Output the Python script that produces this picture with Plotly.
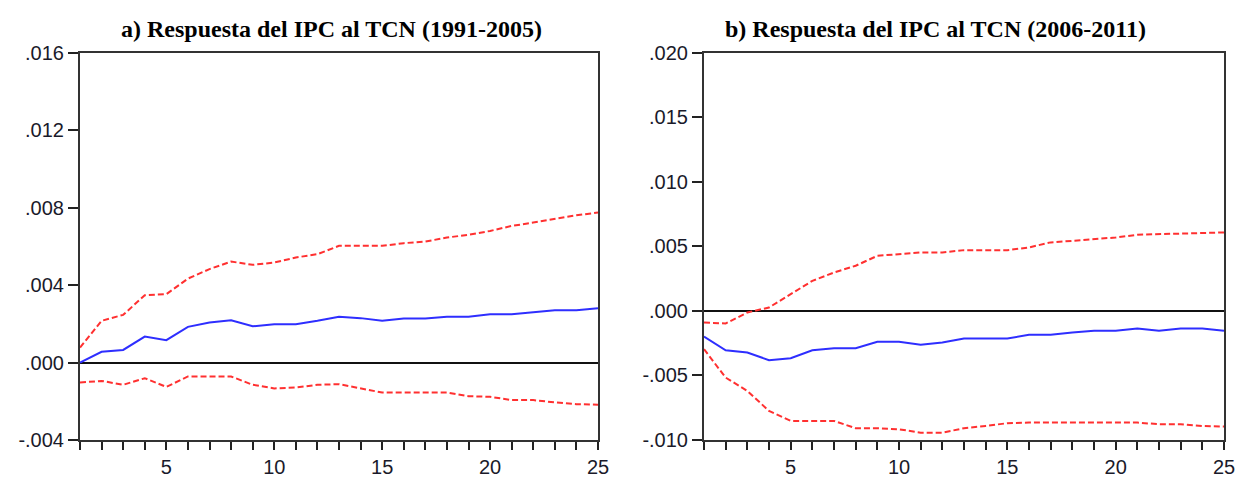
import plotly.graph_objects as go

periods = list(range(1, 26))

# Panel a) 1991-2005
a_resp = [0.0, 0.00055, 0.00065, 0.00134, 0.00115, 0.00184, 0.00206, 0.00218, 0.00187, 0.00198,
          0.00198, 0.00215, 0.00236, 0.00229, 0.00215, 0.00227, 0.00227, 0.00236, 0.00236, 0.00249,
          0.00249, 0.0026, 0.0027, 0.0027, 0.0028]
a_upper = [0.00077, 0.00215, 0.00246, 0.00347, 0.00353, 0.00433, 0.00482, 0.00521, 0.00504, 0.00516,
           0.00542, 0.00559, 0.00602, 0.00602, 0.00602, 0.00616, 0.00624, 0.00645, 0.00659, 0.00679,
           0.00705, 0.00722, 0.0074, 0.0076, 0.00774]
a_lower = [-0.00103, -0.00095, -0.00115, -0.00081, -0.00126, -0.00072, -0.00072, -0.00072, -0.00115, -0.00134,
           -0.00129, -0.00115, -0.00112, -0.00134, -0.00155, -0.00155, -0.00155, -0.00155, -0.00174, -0.00177,
           -0.00194, -0.00194, -0.00206, -0.00215, -0.00218]

# Panel b) 2006-2011
b_resp = [-0.00199, -0.00305, -0.00323, -0.00382, -0.00367, -0.00305, -0.00289, -0.00289, -0.0024, -0.0024,
          -0.00263, -0.00245, -0.00214, -0.00214, -0.00214, -0.00186, -0.00186, -0.00168, -0.00155, -0.00155,
          -0.00137, -0.00155, -0.00137, -0.00137, -0.00155]
b_upper = [-0.0009, -0.00098, -0.00013, 0.00026, 0.00129, 0.00232, 0.00297, 0.00349, 0.00426, 0.00439,
           0.00452, 0.00452, 0.0047, 0.0047, 0.0047, 0.00491, 0.0053, 0.00542, 0.00555, 0.00568,
           0.00589, 0.00594, 0.006, 0.00607, 0.00607]
b_lower = [-0.00297, -0.00517, -0.0062, -0.00775, -0.00852, -0.00852, -0.00852, -0.00909, -0.00909, -0.00917,
           -0.00943, -0.00943, -0.00909, -0.00891, -0.0087, -0.00865, -0.00865, -0.00865, -0.00865, -0.00865,
           -0.00865, -0.00878, -0.00878, -0.00891, -0.00896]

a_ytickvals = [-0.004, 0.0, 0.004, 0.008, 0.012, 0.016]
a_yticktext = ["-.004", ".000", ".004", ".008", ".012", ".016"]
b_ytickvals = [-0.010, -0.005, 0.0, 0.005, 0.010, 0.015, 0.020]
b_yticktext = ["-.010", "-.005", ".000", ".005", ".010", ".015", ".020"]

titles = ["a) Respuesta del IPC al TCN (1991-2005)", "b) Respuesta del IPC al TCN (2006-2011)"]

BLUE = "#2e2eff"
RED = "#ff3030"

fig = go.Figure()


def add_panel(xa, ya, resp, up, lo):
    fig.add_trace(go.Scatter(x=periods, y=up, mode="lines", xaxis=xa, yaxis=ya,
                             line=dict(color=RED, width=2, dash="6px,3px"), showlegend=False))
    fig.add_trace(go.Scatter(x=periods, y=lo, mode="lines", xaxis=xa, yaxis=ya,
                             line=dict(color=RED, width=2, dash="6px,3px"), showlegend=False))
    fig.add_trace(go.Scatter(x=periods, y=resp, mode="lines", xaxis=xa, yaxis=ya,
                             line=dict(color=BLUE, width=2), showlegend=False))


add_panel("x", "y", a_resp, a_upper, a_lower)
add_panel("x2", "y2", b_resp, b_upper, b_lower)

tickfont = dict(family="Liberation Sans, Arial, sans-serif", size=20, color="#1a1a2a")
xcommon = dict(range=[1, 25], tick0=0, dtick=5, ticks="outside", ticklen=8, tickwidth=2,
               tickcolor="#222", showline=True, linecolor="#333", linewidth=2, mirror=True,
               showgrid=False, zeroline=False, tickfont=tickfont, automargin=False,
               minor=dict(dtick=1, tick0=0, ticks="outside", ticklen=8, tickwidth=2, tickcolor="#222",
                          showgrid=False))
ycommon = dict(ticks="outside", ticklen=10, tickwidth=2, tickcolor="#222", showline=True,
               linecolor="#333", linewidth=2, mirror=True, showgrid=False, zeroline=True,
               zerolinecolor="#111", zerolinewidth=2, tickfont=tickfont, tickmode="array",
               automargin=False)

fig.update_layout(
    width=1236, height=480,
    margin=dict(l=0, r=0, t=0, b=0),
    paper_bgcolor="white", plot_bgcolor="white",
    xaxis=dict(domain=[80 / 1236, 598 / 1236], anchor="y", **xcommon),
    yaxis=dict(domain=[40 / 480, 427.5 / 480], anchor="x", range=[-0.004, 0.016],
               tickvals=a_ytickvals, ticktext=a_yticktext, **ycommon),
    xaxis2=dict(domain=[704 / 1236, 1224 / 1236], anchor="y2", **xcommon),
    yaxis2=dict(domain=[40 / 480, 427.5 / 480], anchor="x2", range=[-0.010, 0.020],
                tickvals=b_ytickvals, ticktext=b_yticktext, **ycommon),
    annotations=[
        dict(text="<b>" + titles[0] + "</b>", x=331.5 / 1236, y=1 - 29 / 480, xref="paper", yref="paper",
             xanchor="center", yanchor="middle", showarrow=False,
             font=dict(family="Liberation Serif, Times New Roman, serif", size=24, color="#000")),
        dict(text="<b>" + titles[1] + "</b>", x=935 / 1236, y=1 - 29 / 480, xref="paper", yref="paper",
             xanchor="center", yanchor="middle", showarrow=False,
             font=dict(family="Liberation Serif, Times New Roman, serif", size=24, color="#000")),
    ],
)

fig.write_html("out.html")
